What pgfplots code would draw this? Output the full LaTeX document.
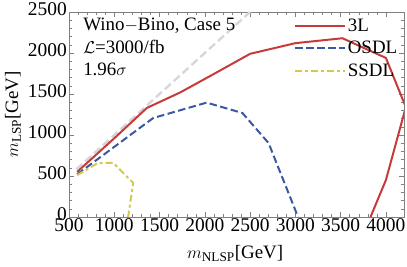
\documentclass[border=0pt]{standalone}
\usepackage{pgfplots}
\pgfplotsset{compat=1.18}
\usepackage{fontspec}
\setmainfont{Liberation Serif}
\definecolor{cred}{RGB}{198,58,58}
\definecolor{cblue}{RGB}{58,88,160}
\definecolor{cyel}{RGB}{215,200,75}
\definecolor{cgray}{RGB}{215,215,215}
\begin{document}
\begin{tikzpicture}
\begin{axis}[
  at={(0,0)}, anchor=south west,
  scale only axis, width=335bp, height=205bp,
  xmin=500, xmax=4200, ymin=0, ymax=2500,
  xtick={500,1000,...,4000}, ytick={0,500,...,2500},
  minor x tick num=4, minor y tick num=4,
  tick align=inside, major tick length=5bp, minor tick length=3bp,
  axis line style={gray}, every tick/.style={gray},
  /pgf/number format/assume math mode=true,
  /pgf/number format/1000 sep={},
  tick label style={font=\fontsize{19.5}{19.5}\selectfont},
  xticklabel style={inner sep=1bp},
  yticklabel style={inner sep=2bp, yshift=3bp},
  label style={font=\fontsize{19}{19}\selectfont},
  xlabel={$m_{\mathrm{NLSP}}$[GeV]}, ylabel={$m_{\mathrm{LSP}}$[GeV]},
  xlabel style={at={(axis description cs:0.496,-0.18)}, anchor=center},
  ylabel style={at={(axis description cs:-0.167,0.5)}, anchor=center},
  legend style={draw=none, fill=none, at={(axis description cs:0.672,0.976)}, anchor=north west, font=\fontsize{19}{19}\selectfont, row sep=5.5bp, inner sep=0bp, nodes={inner sep=1.5bp}},
  legend cell align=left,
  legend image code/.code={\draw[#1] (0bp,0bp) -- (50bp,0bp);},
]
\addplot[cgray, line width=2.4pt, dash pattern=on 8pt off 4pt, forget plot] coordinates {(580,580) (2500,2500)};
\addplot[cred, line width=2pt] coordinates {(590,550) (1000,960) (1360,1330) (1730,1520) (2060,1720) (2500,1990) (3000,2120) (3520,2180) (4000,1940) (4220,1340) (4000,450) (3830,0)};
\addlegendentry{3L}
\addplot[cblue, line width=2pt, dash pattern=on 7.5pt off 3.5pt] coordinates {(590,520) (1430,1207) (2020,1395) (2416,1268) (2704,902) (3030,0)};
\addlegendentry{OSDL}
\addplot[cyel, line width=2pt, dash pattern=on 7pt off 3pt on 3pt off 3pt] coordinates {(590,510) (820,659) (990,659) (1209,415) (1153,0)};
\addlegendentry{SSDL}
\node[anchor=north west, align=left, font=\fontsize{19}{22.5}\selectfont, inner sep=0pt] at (axis description cs:0.042,0.971) {Wino$-$Bino, Case 5\\$\mathcal{L}$=3000/fb\\1.96$\sigma$};
\end{axis}
\pgfresetboundingbox
\path (-69bp,-50bp) rectangle (338bp,217bp);
\end{tikzpicture}
\end{document}
